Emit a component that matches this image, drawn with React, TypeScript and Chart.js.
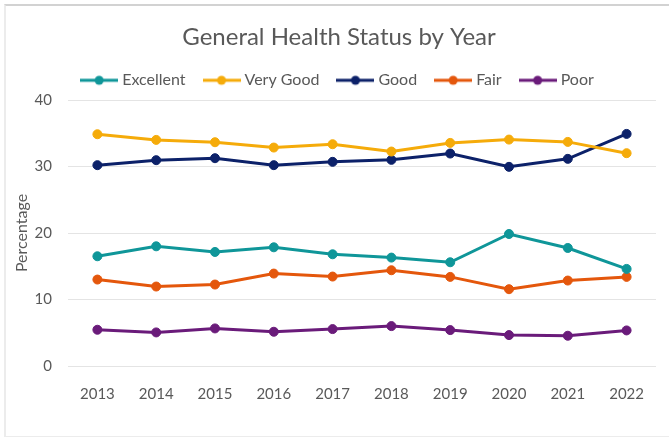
import React, { useEffect, useRef } from 'react';
import { Chart, registerables } from 'chart.js';

Chart.register(...registerables);

const years = ['2013', '2014', '2015', '2016', '2017', '2018', '2019', '2020', '2021', '2022'];
const seriesNames = ['Excellent', 'Very Good', 'Good', 'Fair', 'Poor'];
const seriesColors = ['#0f9699', '#f5ab0a', '#0c2169', '#e4570c', '#6a1b7a'];
const excellent = [16.5, 18.0, 17.15, 17.85, 16.8, 16.3, 15.6, 19.85, 17.75, 14.6];
const veryGood = [34.85, 34.0, 33.65, 32.85, 33.35, 32.25, 33.55, 34.05, 33.7, 32.0];
const good = [30.2, 30.95, 31.25, 30.2, 30.7, 31.0, 31.95, 29.95, 31.15, 34.9];
const fair = [13.0, 11.95, 12.25, 13.9, 13.45, 14.4, 13.4, 11.55, 12.85, 13.4];
const poor = [5.45, 5.05, 5.65, 5.15, 5.55, 6.0, 5.4, 4.65, 4.55, 5.35];
const yMin = 0;
const yMax = 40;
const yStep = 10;

const TEXT = '#595959';
const FONT = 'Lato';

function makeIcon(color: string): HTMLCanvasElement {
  const c = document.createElement('canvas');
  c.width = 38;
  c.height = 12;
  const ctx = c.getContext('2d')!;
  ctx.strokeStyle = color;
  ctx.lineWidth = 3;
  ctx.beginPath();
  ctx.moveTo(0, 6);
  ctx.lineTo(38, 6);
  ctx.stroke();
  ctx.fillStyle = color;
  ctx.beginPath();
  ctx.arc(19, 6, 4.5, 0, Math.PI * 2);
  ctx.fill();
  return c;
}

export default function App() {
  const ref = useRef<HTMLCanvasElement | null>(null);

  useEffect(() => {
    if (!ref.current) return;
    const data = [excellent, veryGood, good, fair, poor];
    const chart = new Chart(ref.current, {
      type: 'line',
      data: {
        labels: years,
        datasets: data.map((d, i) => ({
          label: seriesNames[i],
          data: d,
          borderColor: seriesColors[i],
          backgroundColor: seriesColors[i],
          pointBackgroundColor: seriesColors[i],
          pointBorderColor: seriesColors[i],
          borderWidth: 3,
          pointRadius: 4.5,
          pointBorderWidth: 1,
          tension: 0,
          fill: false,
        })),
      },
      options: {
        animation: false,
        responsive: false,
        maintainAspectRatio: false,
        layout: { padding: { left: 22, right: 13, top: 0, bottom: 0 } },
        plugins: {
          tooltip: { enabled: false },
          title: {
            display: true,
            text: 'General Health Status by Year',
            color: TEXT,
            font: { family: FONT, size: 24, weight: 'normal' },
            padding: { top: 22.5, bottom: 0 },
          },
          subtitle: {
            display: true,
            text: ' ',
            weight: 500,
            font: { family: FONT, size: 1, lineHeight: 1 },
            padding: { top: 0, bottom: 0.7 },
          } as any,
          legend: {
            display: true,
            position: 'top',
            labels: {
              color: TEXT,
              font: { family: FONT, size: 16 },
              usePointStyle: true,
              pointStyleWidth: 30,
              padding: 21,
              generateLabels: (ch: any) =>
                ch.data.datasets.map((ds: any, i: number) => ({
                  text: ds.label,
                  pointStyle: makeIcon(seriesColors[i]),
                  fillStyle: seriesColors[i],
                  strokeStyle: seriesColors[i],
                  lineWidth: 0,
                  hidden: false,
                  datasetIndex: i,
                  fontColor: TEXT,
                })),
            },
          },
        },
        scales: {
          x: {
            type: 'category',
            offset: true,
            grid: { display: false },
            border: { display: false },
            ticks: {
              color: TEXT,
              font: { family: FONT, size: 15 },
              padding: 11,
              maxRotation: 0,
            },
            afterFit: (s: any) => {
              s.height = 73;
            },
          },
          y: {
            min: yMin,
            max: yMax,
            grid: { color: '#e4e4e4', lineWidth: 1, drawTicks: false },
            border: { display: false },
            ticks: {
              stepSize: yStep,
              color: TEXT,
              font: { family: FONT, size: 15 },
              padding: 16,
            },
            title: {
              display: true,
              text: 'Percentage',
              color: TEXT,
              font: { family: FONT, size: 16 },
              padding: { top: -10.1, bottom: 0 },
            },
            afterFit: (s: any) => {
              s.width = 46;
            },
          },
        },
      },
    });
    return () => chart.destroy();
  }, []);

  return (
    <div style={{ position: 'fixed', left: 0, top: 0, width: 669, height: 439, background: '#ffffff' }}>
      <div
        style={{
          position: 'absolute',
          left: 4,
          top: 4,
          width: 665,
          height: 433,
          borderTop: '2px solid #d2d2d2',
          borderLeft: '2px solid #ececec',
          borderBottom: '1px solid #ececec',
          boxSizing: 'border-box',
        }}
      />
      <canvas ref={ref} width={669} height={439} style={{ position: 'absolute', left: 0, top: 0, width: 669, height: 439 }} />
    </div>
  );
}
